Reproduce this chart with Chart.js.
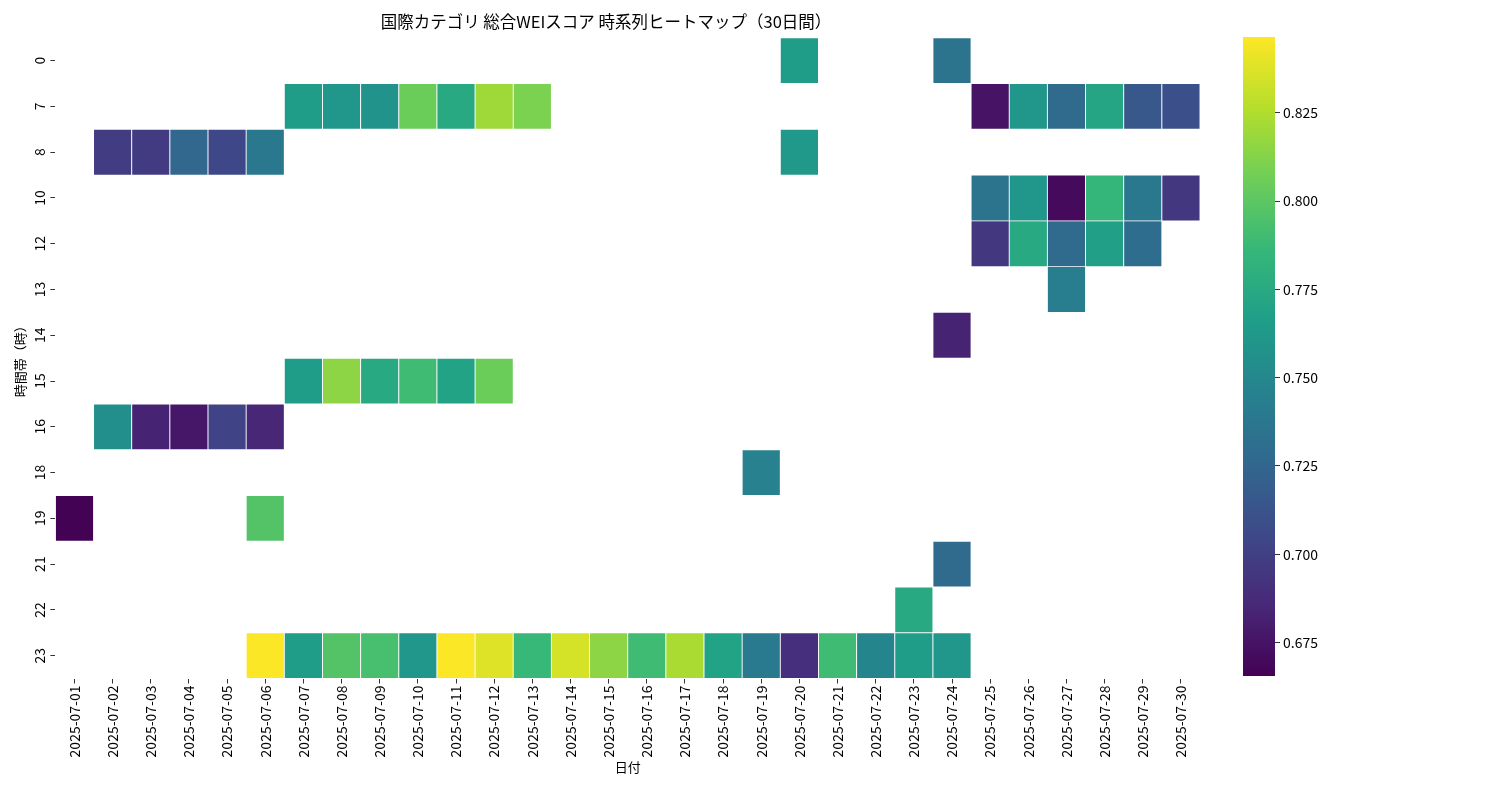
<!DOCTYPE html>
<html><head><meta charset="utf-8">
<script src="https://cdn.jsdelivr.net/npm/chart.js@4"></script>
<style>
body{margin:0;background:#fff;font-family:"Noto Sans CJK JP";}
#main{position:absolute;left:0;top:0;}
#bar{position:absolute;left:1200px;top:0;}
</style></head><body>
<div id="main" style="width:1215px;height:800px"><canvas id="heat"></canvas></div>
<div id="bar" style="width:160px;height:800px"><canvas id="cbar"></canvas></div>
<script>
const dates = Array.from({length: 30}, (_, i) => '2025-07-' + String(i + 1).padStart(2, '0'));
const hours = [0, 7, 8, 10, 12, 13, 14, 15, 16, 18, 19, 21, 22, 23];

// sparse cells: date index (0 = 07-01), hour, score
const cellDay = [19, 23,
  6, 7, 8, 9, 10, 11, 12, 24, 25, 26, 27, 28, 29,
  1, 2, 3, 4, 5, 19,
  24, 25, 26, 27, 28, 29,
  24, 25, 26, 27, 28,
  26, 23,
  6, 7, 8, 9, 10, 11,
  1, 2, 3, 4, 5,
  18, 0, 5, 23, 22,
  5, 6, 7, 8, 9, 10, 11, 12, 13, 14, 15, 16, 17, 18, 19, 20, 21, 22, 23];
const cellHour = [0, 0,
  7, 7, 7, 7, 7, 7, 7, 7, 7, 7, 7, 7, 7,
  8, 8, 8, 8, 8, 8,
  10, 10, 10, 10, 10, 10,
  12, 12, 12, 12, 12,
  13, 14,
  15, 15, 15, 15, 15, 15,
  16, 16, 16, 16, 16,
  18, 19, 19, 21, 22,
  23, 23, 23, 23, 23, 23, 23, 23, 23, 23, 23, 23, 23, 23, 23, 23, 23, 23, 23];
const cellScore = [0.765, 0.735,
  0.765, 0.760, 0.758, 0.805, 0.775, 0.820, 0.810, 0.675, 0.760, 0.728, 0.772, 0.715, 0.710,
  0.698, 0.697, 0.725, 0.705, 0.738, 0.762,
  0.735, 0.760, 0.670, 0.785, 0.738, 0.695,
  0.695, 0.775, 0.728, 0.768, 0.730,
  0.742, 0.683,
  0.765, 0.815, 0.775, 0.790, 0.770, 0.805,
  0.755, 0.683, 0.677, 0.702, 0.685,
  0.745, 0.666, 0.797, 0.728, 0.775,
  0.846, 0.765, 0.797, 0.793, 0.760, 0.846, 0.838, 0.787, 0.835, 0.815, 0.790, 0.823, 0.770, 0.740, 0.690, 0.790, 0.748, 0.765, 0.760];

const vmin = 0.6655, vmax = 0.8465;
const colorTicks = [0.675, 0.700, 0.725, 0.750, 0.775, 0.800, 0.825];

const viridis = ['#440154', '#482878', '#3e4989', '#31688e', '#26828e', '#1f9e89', '#35b779', '#6ece58', '#b5de2b', '#fde725'];
function hex(c) { return [1, 3, 5].map(i => parseInt(c.substr(i, 2), 16)); }
function colorOf(v) {
  let t = Math.max(0, Math.min(1, (v - vmin) / (vmax - vmin))) * (viridis.length - 1);
  const i = Math.min(Math.floor(t), viridis.length - 2), f = t - i;
  const a = hex(viridis[i]), b = hex(viridis[i + 1]);
  return 'rgb(' + a.map((x, k) => Math.round(x + (b[k] - x) * f)).join(',') + ')';
}

const font = {family: '"Noto Sans CJK JP", "Noto Sans"', size: 14};
const small = {family: '"Noto Sans CJK JP", "Noto Sans"', size: 13};

const datasets = hours.map((h, r) => {
  const data = dates.map(() => null);
  const vals = dates.map(() => null);
  cellHour.forEach((ch, k) => {
    if (ch === h) { data[cellDay[k]] = [r - 0.5, r + 0.5]; vals[cellDay[k]] = cellScore[k]; }
  });
  return {
    label: String(h), data,
    backgroundColor: ctx => vals[ctx.dataIndex] == null ? 'transparent' : colorOf(vals[ctx.dataIndex]),
    borderColor: '#fff', borderWidth: 0.8, borderSkipped: false,
    barPercentage: 1, categoryPercentage: 1, grouped: false
  };
});

new Chart(document.getElementById('heat'), {
  type: 'bar',
  data: {labels: dates, datasets},
  options: {
    responsive: true, maintainAspectRatio: false, animation: false,
    layout: {padding: {top: 10, right: 15, left: 12, bottom: 25}},
    plugins: {
      legend: {display: false}, tooltip: {enabled: false},
      title: {display: true, text: '国際カテゴリ 総合WEIスコア 時系列ヒートマップ（30日間）',
        font: {...font, size: 16.5, weight: 'normal'}, color: '#000', padding: {top: 2, bottom: 6}}
    },
    scales: {
      x: {
        grid: {drawOnChartArea: false, color: '#333', tickLength: 5, offset: false},
        border: {display: false},
        ticks: {font, color: '#000', minRotation: 90, maxRotation: 90, padding: 2},
        title: {display: true, text: '日付', font: small, color: '#000', padding: 0}
      },
      y: {
        type: 'linear', min: -0.5, max: hours.length - 0.5, reverse: true,
        afterBuildTicks: s => { s.ticks = hours.map((_, i) => ({value: i})); },
        grid: {drawOnChartArea: false, color: '#333', tickLength: 5},
        border: {display: false},
        ticks: {font, color: '#000', minRotation: 90, maxRotation: 90, crossAlign: 'center', callback: v => hours[v]},
        title: {display: true, text: '時間帯（時）', font: small, color: '#000', padding: 0}
      }
    }
  }
});

new Chart(document.getElementById('cbar'), {
  type: 'bar',
  data: {labels: [''], datasets: [{
    data: [[vmin, vmax]],
    backgroundColor: ctx => {
      const a = ctx.chart.chartArea;
      if (!a) return '#888';
      const g = ctx.chart.ctx.createLinearGradient(0, a.bottom, 0, a.top);
      viridis.forEach((c, i) => g.addColorStop(i / (viridis.length - 1), c));
      return g;
    },
    barPercentage: 1, categoryPercentage: 1, borderWidth: 0
  }]},
  options: {
    responsive: true, maintainAspectRatio: false, animation: false,
    layout: {padding: {top: 37, bottom: 124, left: 43, right: 0}},
    plugins: {legend: {display: false}, tooltip: {enabled: false}},
    scales: {
      x: {display: false},
      y: {
        position: 'right', min: vmin, max: vmax,
        afterBuildTicks: s => { s.ticks = colorTicks.map(v => ({value: v})); },
        afterFit: s => { s.width = 85; },
        grid: {drawOnChartArea: false, color: '#333', tickLength: 5},
        border: {display: false},
        ticks: {font, color: '#000', callback: v => v.toFixed(3)}
      }
    }
  }
});
</script>
</body></html>
